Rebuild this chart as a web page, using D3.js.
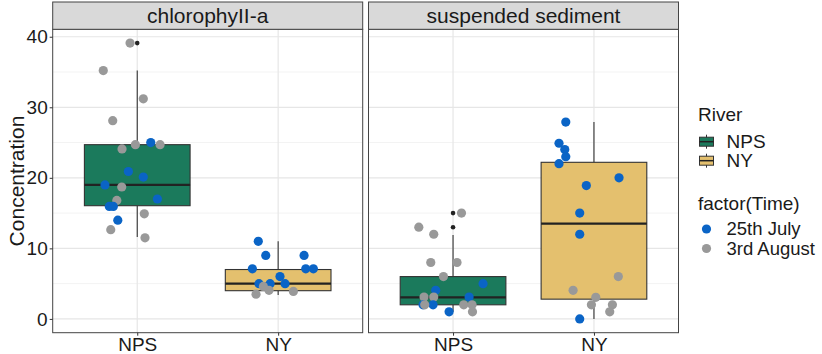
<!DOCTYPE html>
<html>
<head>
<meta charset="utf-8">
<script src="https://cdn.jsdelivr.net/npm/d3@7"></script>
<style>
  body { margin: 0; background: #fff; }
  svg { font-family: "Liberation Sans", Arial, sans-serif; }
</style>
</head>
<body>
<div class="display-svg"></div>
<script>
// facets, categories and colour groups
var panels = ["chlorophyII-a", "suspended sediment"];
var rivers = ["NPS", "NY"];
var times = ["25th July", "3rd August"];
var yTicks = [0, 10, 20, 30, 40];

// box statistics (panel index, river index)
var boxPanel = [0, 0, 1, 1];
var boxRiver = [0, 1, 0, 1];
var boxLow  = [11.6, 3.4, 1.0, 0.0];
var boxQ1   = [16.05, 4.0, 2.0, 2.8];
var boxMed  = [19.0, 5.0, 3.06, 13.5];
var boxQ3   = [24.7, 7.0, 6.0, 22.2];
var boxHigh = [35.2, 11.0, 11.9, 27.9];

// outliers of the boxplots
var outPanel = [0, 1, 1];
var outRiver = [0, 0, 0];
var outValue = [39.1, 15.0, 13.0];

// jittered samples: panel, river, time (0 = 25th July, 1 = 3rd August), value, jitter (category units)
var ptPanel = [
  0,0,0,0,0,0,0,0,0,0,0,0,0,0,0,0,0,0,0,0,
  0,0,0,0,0,0,0,0,0,0,0,0,0,0,
  1,1,1,1,1,1,1,1,1,1,1,1,1,1,1,1,1,1,
  1,1,1,1,1,1,1,1,1,1,1,1,1,1,1,1
];
var ptRiver = [
  0,0,0,0,0,0,0,0,0,0,0,0,0,0,0,0,0,0,0,0,
  1,1,1,1,1,1,1,1,1,1,1,1,1,1,
  0,0,0,0,0,0,0,0,0,0,0,0,0,0,0,0,0,0,
  1,1,1,1,1,1,1,1,1,1,1,1,1,1,1,1
];
var ptTime = [
  1,1,1,1,1,1,0,1,0,0,0,1,1,0,0,0,1,0,1,1,
  0,0,0,0,0,0,0,0,0,0,1,1,1,1,
  1,1,1,1,1,1,0,0,0,1,1,0,0,1,1,1,0,1,
  0,0,0,0,0,0,0,0,0,1,1,1,1,1,1,0
];
var ptValue = [
  39.1,35.2,31.2,28.1,24.1,24.7,25.0,24.7,20.9,20.1,19.0,18.7,16.8,17.0,15.95,15.95,14.9,14.0,12.65,11.5,
  11.0,9.0,9.0,7.1,7.1,7.1,6.0,5.0,5.0,5.0,4.6,4.05,3.5,3.9,
  15.0,13.0,12.0,8.0,8.0,6.0,5.0,4.05,3.1,3.1,3.1,2.0,2.0,2.0,2.0,2.0,1.0,1.0,
  27.9,24.9,24.0,23.0,22.0,20.0,18.9,15.0,12.0,6.0,4.05,3.06,2.0,2.0,1.0,0.0
];
var ptJitter = [
  -0.051,-0.241,0.043,-0.174,-0.108,-0.013,0.096,0.162,-0.063,0.043,-0.229,-0.110,-0.145,0.143,-0.198,-0.170,0.050,-0.138,-0.188,0.055,
  -0.141,-0.088,0.184,-0.183,0.196,0.250,0.013,-0.136,-0.057,0.049,-0.105,-0.065,-0.157,0.108,
  0.060,-0.243,-0.137,-0.158,0.028,-0.068,0.213,-0.123,0.114,-0.206,-0.137,-0.213,-0.142,-0.201,0.076,0.135,-0.028,0.138,
  -0.200,-0.248,-0.207,-0.200,-0.248,0.178,-0.054,-0.101,-0.101,0.173,-0.148,0.013,-0.018,0.131,0.112,-0.101
];

var riverColor = d3.scaleOrdinal().domain(rivers).range(["#1b7a5c", "#e4c06e"]);
var timeColor = d3.scaleOrdinal().domain(times).range(["#0a64c6", "#999999"]);

var width = 822, height = 354;
var panelTop = 29.3, panelBottom = 332.7, stripTop = 2;
var panelX = [[52.7, 362.7], [368.5, 678.5]];

var svg = d3.select(".display-svg").append("svg")
  .attr("width", width)
  .attr("height", height);

// y scale with ggplot-like 5% expansion
var allVals = ptValue.concat(outValue, boxHigh);
var yMin = Math.min(0, d3.min(allVals)), yMax = d3.max(allVals);
var pad = (yMax - yMin) * 0.05;
var y = d3.scaleLinear().domain([yMin - pad, yMax + pad]).range([panelBottom, panelTop]);
var minorTicks = d3.range(0, 45, 5);

panels.forEach(function(name, p) {
  var x = d3.scaleLinear().domain([0.4, 2.6]).range(panelX[p]);
  var g = svg.append("g");
  var x0 = panelX[p][0], x1 = panelX[p][1];

  g.append("rect")
    .attr("x", x0).attr("y", panelTop)
    .attr("width", x1 - x0).attr("height", panelBottom - panelTop)
    .attr("fill", "#fff");

  // grid lines
  g.selectAll(".minor").data(minorTicks.filter(function(t) { return t % 10 !== 0; }))
    .enter().append("line")
    .attr("x1", x0).attr("x2", x1)
    .attr("y1", function(d) { return y(d); }).attr("y2", function(d) { return y(d); })
    .attr("stroke", "#f3f3f3").attr("stroke-width", 1);
  g.selectAll(".major").data(yTicks)
    .enter().append("line")
    .attr("x1", x0).attr("x2", x1)
    .attr("y1", function(d) { return y(d); }).attr("y2", function(d) { return y(d); })
    .attr("stroke", "#e6e6e6").attr("stroke-width", 1.2);
  g.selectAll(".vgrid").data(rivers)
    .enter().append("line")
    .attr("x1", function(d, i) { return x(i + 1); }).attr("x2", function(d, i) { return x(i + 1); })
    .attr("y1", panelTop).attr("y2", panelBottom)
    .attr("stroke", "#e6e6e6").attr("stroke-width", 1.2);

  // boxplots
  var bw = 0.375;
  boxPanel.forEach(function(bp, i) {
    if (bp !== p) return;
    var cx = boxRiver[i] + 1;
    g.append("line")
      .attr("x1", x(cx)).attr("x2", x(cx))
      .attr("y1", y(boxHigh[i])).attr("y2", y(boxQ3[i]))
      .attr("stroke", "#333").attr("stroke-width", 1.1);
    g.append("line")
      .attr("x1", x(cx)).attr("x2", x(cx))
      .attr("y1", y(boxQ1[i])).attr("y2", y(boxLow[i]))
      .attr("stroke", "#333").attr("stroke-width", 1.1);
    g.append("rect")
      .attr("x", x(cx - bw)).attr("y", y(boxQ3[i]))
      .attr("width", x(cx + bw) - x(cx - bw))
      .attr("height", y(boxQ1[i]) - y(boxQ3[i]))
      .attr("fill", riverColor(rivers[boxRiver[i]]))
      .attr("stroke", "#333").attr("stroke-width", 1.1);
    g.append("line")
      .attr("x1", x(cx - bw)).attr("x2", x(cx + bw))
      .attr("y1", y(boxMed[i])).attr("y2", y(boxMed[i]))
      .attr("stroke", "#222").attr("stroke-width", 2.2);
  });

  outPanel.forEach(function(op, i) {
    if (op !== p) return;
    g.append("circle")
      .attr("cx", x(outRiver[i] + 1)).attr("cy", y(outValue[i]))
      .attr("r", 2.3).attr("fill", "#222");
  });

  // jittered points
  ptPanel.forEach(function(pp, i) {
    if (pp !== p) return;
    g.append("circle")
      .attr("cx", x(ptRiver[i] + 1 + ptJitter[i]))
      .attr("cy", y(ptValue[i]))
      .attr("r", 4.6)
      .attr("fill", timeColor(times[ptTime[i]]));
  });

  // panel border
  g.append("rect")
    .attr("x", x0).attr("y", panelTop)
    .attr("width", x1 - x0).attr("height", panelBottom - panelTop)
    .attr("fill", "none").attr("stroke", "#444").attr("stroke-width", 1);

  // strip
  g.append("rect")
    .attr("x", x0).attr("y", stripTop)
    .attr("width", x1 - x0).attr("height", panelTop - stripTop)
    .attr("fill", "#d9d9d9").attr("stroke", "#444").attr("stroke-width", 1);
  g.append("text")
    .attr("x", (x0 + x1) / 2).attr("y", (stripTop + panelTop) / 2)
    .attr("dy", "0.35em").attr("text-anchor", "middle")
    .attr("font-size", 21).attr("fill", "#1a1a1a")
    .text(name);

  // x axis
  var xAxis = d3.axisBottom(x).tickValues([1, 2])
    .tickFormat(function(d) { return rivers[d - 1]; })
    .tickSize(3).tickPadding(2);
  var ax = g.append("g").attr("transform", "translate(0," + panelBottom + ")").call(xAxis);
  ax.select(".domain").remove();
  ax.selectAll(".tick line").attr("stroke", "#333");
  ax.selectAll(".tick text").attr("font-size", 19).attr("fill", "#1a1a1a")
    .attr("font-family", "Liberation Sans, Arial, sans-serif");
});

// y axis
var yAxis = d3.axisLeft(y).tickValues(yTicks).tickSize(3).tickPadding(2);
var ay = svg.append("g").attr("transform", "translate(" + panelX[0][0] + ",0)").call(yAxis);
ay.select(".domain").remove();
ay.selectAll(".tick line").attr("stroke", "#333");
ay.selectAll(".tick text").attr("font-size", 19).attr("fill", "#1a1a1a")
  .attr("font-family", "Liberation Sans, Arial, sans-serif");

svg.append("text")
  .attr("transform", "translate(17," + ((panelTop + panelBottom) / 2) + ") rotate(-90)")
  .attr("text-anchor", "middle")
  .attr("dy", "0.35em")
  .attr("font-size", 21).attr("fill", "#1a1a1a")
  .text("Concentration");

// legends
var lx = 698, keyX = 699.5, labelX = 726.5;
svg.append("text").attr("x", lx).attr("y", 114).attr("dy", "0.35em")
  .attr("font-size", 19).attr("fill", "#1a1a1a").text("River");
rivers.forEach(function(r, i) {
  var cy = 141.7 + i * 19;
  var kw = 14;
  svg.append("line").attr("x1", keyX + kw / 2).attr("x2", keyX + kw / 2)
    .attr("y1", cy - 7).attr("y2", cy + 7).attr("stroke", "#333").attr("stroke-width", 1);
  svg.append("rect").attr("x", keyX).attr("y", cy - 4.5).attr("width", kw).attr("height", 9)
    .attr("fill", riverColor(r)).attr("stroke", "#333").attr("stroke-width", 1);
  svg.append("line").attr("x1", keyX).attr("x2", keyX + kw)
    .attr("y1", cy).attr("y2", cy).attr("stroke", "#222").attr("stroke-width", 1.5);
  svg.append("text").attr("x", labelX).attr("y", cy).attr("dy", "0.35em")
    .attr("font-size", 19).attr("fill", "#1a1a1a").text(r);
});

svg.append("text").attr("x", lx).attr("y", 203).attr("dy", "0.35em")
  .attr("font-size", 19).attr("fill", "#1a1a1a").text("factor(Time)");
times.forEach(function(t, i) {
  var cy = 229 + i * 19.5;
  svg.append("circle").attr("cx", 706.5).attr("cy", cy).attr("r", 4.6)
    .attr("fill", timeColor(t));
  svg.append("text").attr("x", labelX).attr("y", cy).attr("dy", "0.35em")
    .attr("font-size", 18.5).attr("fill", "#1a1a1a").text(t);
});
</script>
</body>
</html>
